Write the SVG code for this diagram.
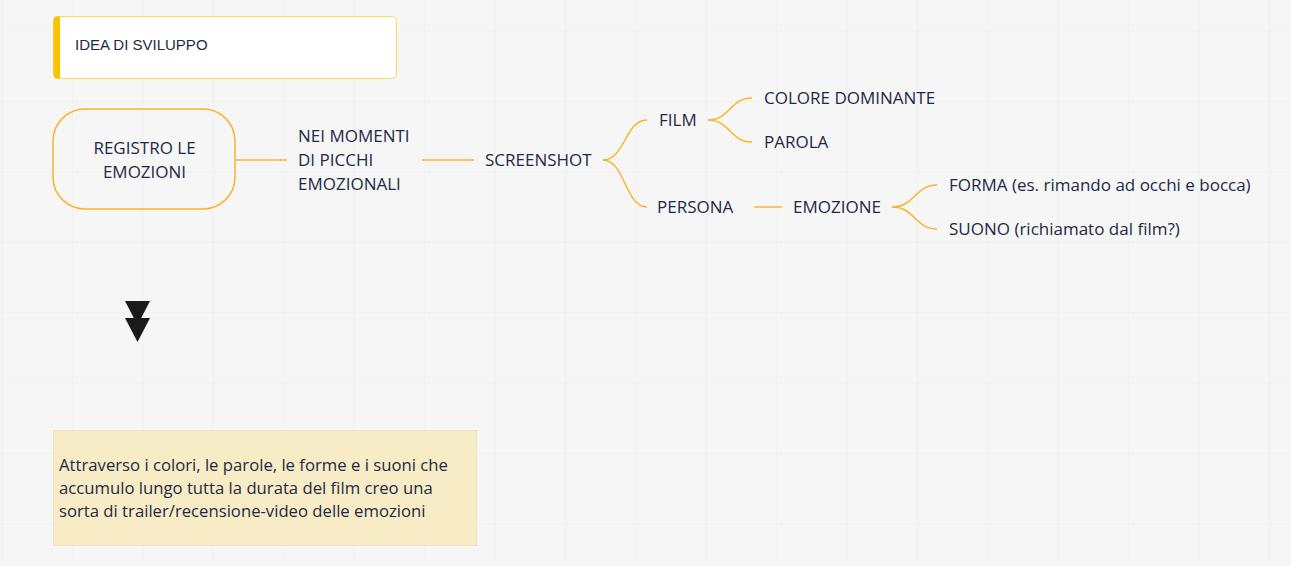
<svg xmlns="http://www.w3.org/2000/svg" width="1291" height="566" viewBox="0 0 1291 566">
<defs>
<pattern id="grid" x="2.6" y="31.6" width="70.4" height="70.4" patternUnits="userSpaceOnUse">
<path d="M70.4 0V70.4M0 70.4H70.4" fill="none" stroke="#ededed" stroke-width="1"/>
</pattern>
<style>
.t{font-family:"Open Sans","Noto Sans",sans-serif;font-size:17px;fill:#1e2a44;dominant-baseline:central}
.n{font-size:16.7px}
.c{fill:none;stroke:#fbb32c;stroke-width:1.5}
</style>
</defs>
<rect width="1291" height="566" fill="#f6f6f6"/>
<rect width="1291" height="566" fill="url(#grid)"/>
<g id="idea">
<rect x="53.5" y="16.5" width="343" height="62" rx="4" fill="#ffffff" stroke="#fcd661" stroke-width="1"/>
<path d="M57.5 16.5H60V78.5H57.5A4 4 0 0 1 53.5 74.5V20.5A4 4 0 0 1 57.5 16.5Z" fill="#f8c400"/>
<text x="75" y="44" font-family="Liberation Sans,Arial,sans-serif" font-size="15" fill="#1e2a44" dominant-baseline="central">IDEA DI SVILUPPO</text>
</g>
<g id="connectors">
<path class="c" d="M236 160H287"/>
<path class="c" d="M422 160H474"/>
<path class="c" d="M603 160C625 160 625 120 647 120"/>
<path class="c" d="M603 160C625 160 625 207 647 207"/>
<path class="c" d="M708 120C730 120 730 98 752 98"/>
<path class="c" d="M708 120C730 120 730 142 752 142"/>
<path class="c" d="M754 207H782"/>
<path class="c" d="M892 207C915 207 915 185 937 185"/>
<path class="c" d="M892 207C915 207 915 229 937 229"/>
</g>
<g id="registro">
<rect x="53" y="109" width="182" height="100" rx="32" fill="none" stroke="#fbb32c" stroke-width="1.5"/>
<text class="t" x="144.5" y="147" text-anchor="middle">REGISTRO LE</text>
<text class="t" x="144.5" y="171" text-anchor="middle">EMOZIONI</text>
</g>
<g id="momenti">
<text class="t" x="298" y="135">NEI MOMENTI</text>
<text class="t" x="298" y="159">DI PICCHI</text>
<text class="t" x="298" y="183">EMOZIONALI</text>
</g>
<g id="screenshot"><text class="t" x="485" y="159">SCREENSHOT</text></g>
<g id="film"><text class="t" x="659" y="119">FILM</text></g>
<g id="colore"><text class="t" x="764" y="97">COLORE DOMINANTE</text></g>
<g id="parola"><text class="t" x="764" y="141">PAROLA</text></g>
<g id="persona"><text class="t" x="657" y="206">PERSONA</text></g>
<g id="emozione"><text class="t" x="793" y="206">EMOZIONE</text></g>
<g id="forma"><text class="t" x="949" y="184">FORMA (es. rimando ad occhi e bocca)</text></g>
<g id="suono"><text class="t" x="949" y="228">SUONO (richiamato dal film?)</text></g>
<g id="arrow" fill="#1a1a1a">
<polygon points="125,301 150,301 137.5,325"/>
<polygon points="125,318 150,318 137.5,342"/>
</g>
<g id="nota">
<rect x="53.5" y="430.5" width="423" height="115" fill="#f8ecc7" stroke="#eee2bd" stroke-width="1"/>
<text class="t n" x="59" y="464">Attraverso i colori, le parole, le forme e i suoni che</text>
<text class="t n" x="59" y="487">accumulo lungo tutta la durata del film creo una</text>
<text class="t n" x="59" y="510">sorta di trailer/recensione-video delle emozioni</text>
</g>
</svg>
